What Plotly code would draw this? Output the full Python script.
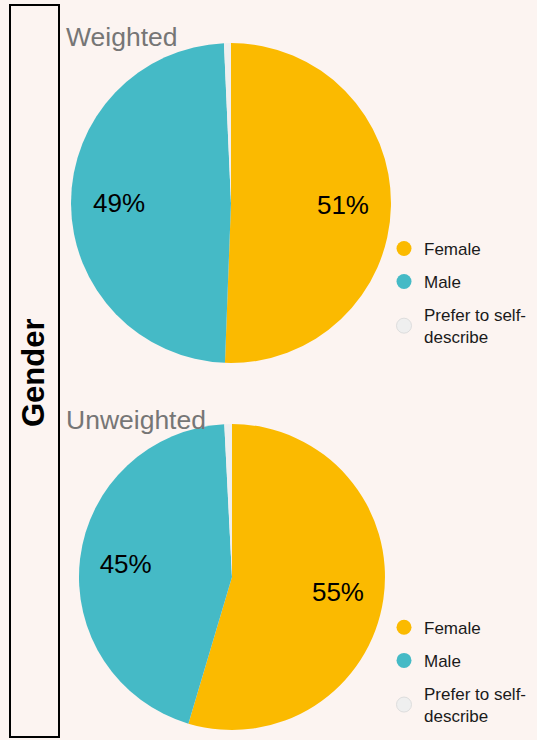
import plotly.graph_objects as go

categories = ['Female', 'Male', 'Prefer to self-describe']
legend_names = ['Female', 'Male', 'Prefer to self-<br>describe']
weighted = [50.6, 48.7, 0.7]
unweighted = [54.6, 44.6, 0.8]
colors = ['#FBBA00', '#45BAC6', '#EFEFEF']
bg = '#FCF4F1'


def pct_labels(vals):
    return [f'{round(v)}%' if v >= 2 else '' for v in vals]


dom_w = dict(x=[0.1322, 0.7281], y=[0.5095, 0.9419])
dom_u = dict(x=[0.1471, 0.7169], y=[0.0135, 0.4270])

fig = go.Figure()

for vals, dom in [(weighted, dom_w), (unweighted, dom_u)]:
    # the pie itself
    fig.add_trace(go.Pie(
        labels=categories, values=vals, textinfo='none',
        sort=False, direction='clockwise', rotation=0,
        marker=dict(colors=colors, line=dict(width=0)),
        domain=dom, showlegend=False, hoverinfo='label+percent',
    ))
    # transparent ring on top just to carry the % labels further out
    fig.add_trace(go.Pie(
        labels=categories, values=vals, text=pct_labels(vals), hole=0.4,
        textinfo='text', textposition='inside', insidetextorientation='horizontal',
        sort=False, direction='clockwise', rotation=0,
        marker=dict(colors=['rgba(0,0,0,0)'] * 3, line=dict(width=0)),
        textfont=dict(size=26, color='black', family='Arial'),
        domain=dom, showlegend=False, hoverinfo='skip',
    ))

# legend entries with round markers, one legend per pie
for lg in ['legend', 'legend2']:
    for i, name in enumerate(legend_names):
        fig.add_trace(go.Scatter(
            x=[None], y=[None], mode='markers', name=name,
            legendgroup=f'{lg}{i}', legend=lg,
            marker=dict(size=15, color=colors[i],
                        line=dict(width=1 if i == 2 else 0, color='#DDDDDD')),
        ))

leg_style = dict(font=dict(family='Arial', size=17, color='#1a1a1a'),
                 bgcolor='rgba(0,0,0,0)', tracegroupgap=8,
                 xanchor='left', yanchor='top', itemclick=False)

fig.update_layout(
    width=537, height=740,
    margin=dict(l=0, r=0, t=0, b=0),
    paper_bgcolor=bg, plot_bgcolor=bg,
    font=dict(family='Arial'),
    xaxis=dict(visible=False), yaxis=dict(visible=False),
    legend=dict(x=384 / 537, y=0.688, **leg_style),
    legend2=dict(x=384 / 537, y=0.176, **leg_style),
    shapes=[dict(type='rect', xref='paper', yref='paper',
                 x0=10 / 537, x1=59 / 537, y0=1 - 737 / 740, y1=1 - 5 / 740,
                 line=dict(color='black', width=2))],
    annotations=[
        dict(text='<b>Gender</b>', x=34 / 537, y=1 - 373 / 740, xref='paper', yref='paper',
             xanchor='center', yanchor='middle',
             textangle=-90, showarrow=False, font=dict(size=31, color='black')),
        dict(text='Weighted', x=64 / 537, y=1 - 37 / 740, xref='paper', yref='paper',
             xanchor='left', yanchor='middle', showarrow=False,
             font=dict(size=26.5, color='#767676')),
        dict(text='Unweighted', x=64 / 537, y=1 - 420 / 740, xref='paper', yref='paper',
             xanchor='left', yanchor='middle', showarrow=False,
             font=dict(size=26.5, color='#767676')),
    ],
)

fig.write_html('out.html', config={'displayModeBar': False},
               post_script="document.body.style.margin='0';")
